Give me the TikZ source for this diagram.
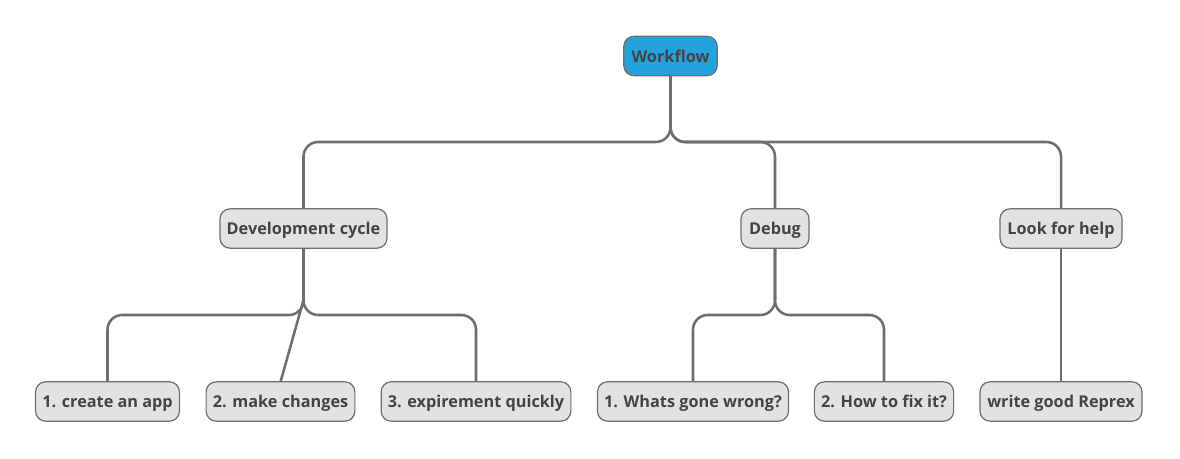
\documentclass[tikz,border=0pt]{standalone}
\usepackage{fontspec}
\setmainfont{Open Sans}
\definecolor{boxfill}{HTML}{E2E2E2}
\definecolor{rootfill}{HTML}{22A3DB}
\definecolor{edgecol}{HTML}{6E6E6E}
\definecolor{txt}{HTML}{444444}
\begin{document}
\begin{tikzpicture}[x=0.75pt,y=-0.75pt,
  mmnode/.style={draw=edgecol, line width=0.9pt, fill=boxfill, rounded corners=7.5pt,
    minimum height=29.5pt, inner xsep=5pt, inner ysep=0pt, text=txt,
    text height=9.5pt, text depth=0pt,
    font=\fontsize{12.2pt}{14pt}\selectfont\bfseries},
  rootnode/.style={mmnode, fill=rootfill},
  link/.style={draw=edgecol, line width=1.9pt, rounded corners=11pt}]
\useasboundingbox (0,0) rectangle (1180,459);
\fill[white] (0,0) rectangle (1180,459);
% connectors first
\coordinate (r) at (670.5,76);
\coordinate (d) at (303.5,248);
\coordinate (g) at (775,248);
\coordinate (h) at (1061,248);
\draw[link] (r) -- (670.5,142) -- (303.5,142) -- (303.5,209);
\draw[link] (r) -- (670.5,142) -- (775,142) -- (775,209);
\draw[link] (r) -- (670.5,142) -- (1061,142) -- (1061,209);
\draw[link] (d) -- (303.5,315) -- (107.5,315) -- (107.5,382);
\draw[link] (d) -- (303.5,315) -- (476,315) -- (476,382);
\draw[link, rounded corners=0pt] (d) -- (303.5,300) -- (280.5,382);
\draw[link] (g) -- (775,315) -- (693,315) -- (693,382);
\draw[link] (g) -- (775,315) -- (884,315) -- (884,382);
\draw[link] (h) -- (1061,382);
% nodes
\node[rootnode, minimum width=70pt] (root) at (670.5,56) {Workflow};
\node[mmnode, minimum width=125pt] (dev) at (303.5,228.5) {Development cycle};
\node[mmnode, minimum width=51pt] (dbg) at (775,228.5) {Debug};
\node[mmnode, minimum width=91.5pt] (help) at (1061,228.5) {Look for help};
\node[mmnode, minimum width=107pt] (c1) at (107.5,401.5) {1. create an app};
\node[mmnode, minimum width=111.5pt] (c2) at (280.5,401.5) {2. make changes};
\node[mmnode, minimum width=141pt] (c3) at (476,401.5) {3. expirement quickly};
\node[mmnode, minimum width=142.5pt] (w1) at (693,401.5) {1. Whats gone wrong?};
\node[mmnode, minimum width=102pt] (w2) at (884,401.5) {2. How to fix it?};
\node[mmnode, minimum width=121.5pt] (rep) at (1061,401.5) {write good Reprex};
\end{tikzpicture}
\end{document}
